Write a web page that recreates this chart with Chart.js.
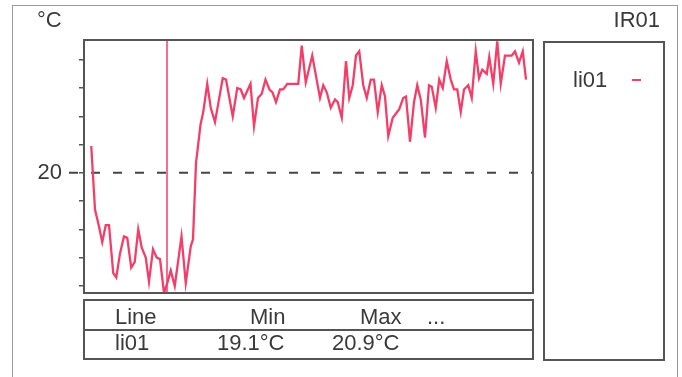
<!DOCTYPE html>
<html>
<head>
<meta charset="utf-8">
<script src="https://cdn.jsdelivr.net/npm/chart.js@4.4.0/dist/chart.umd.min.js"></script>
<style>
body { margin: 0; background: #fff; }
#wrap { position: relative; width: 682px; height: 377px; overflow: hidden; font-family: "Liberation Sans", Arial, sans-serif; font-size: 22px; color: #3a3a3a; }
#wrap canvas { position: absolute; left: 0; top: 0; }
.t { position: absolute; line-height: 22px; white-space: nowrap; }
.box { position: absolute; border: 2px solid #555; box-sizing: border-box; }
</style>
</head>
<body>
<div id="wrap">
  <div style="position:absolute;left:12px;top:5px;width:666px;height:400px;border:1px solid #9a9a9a;box-sizing:border-box;"></div>
  <canvas id="tempChart" width="682" height="377"></canvas>
  <span class="t" style="left:37px;top:9px;">°C</span>
  <span class="t" style="right:22px;top:9px;">IR01</span>

  <!-- legende rechts -->
  <div class="box" style="left:543px;top:41px;width:122px;height:320px;"></div>
  <span class="t" style="left:573px;top:69px;">li01</span>
  <div style="position:absolute;left:632px;top:79px;width:9px;height:2px;background:#f23e68;"></div>

  <!-- tabelle unten -->
  <div class="box" style="left:83px;top:299px;width:451px;height:61px;"></div>
  <div style="position:absolute;left:83px;top:329px;width:451px;height:2px;background:#555;"></div>
  <span class="t" style="left:115px;top:306px;">Line</span>
  <span class="t" style="left:250px;top:306px;">Min</span>
  <span class="t" style="left:360px;top:306px;">Max</span>
  <span class="t" style="left:427px;top:306px;">...</span>
  <span class="t" style="left:115px;top:332px;">li01</span>
  <span class="t" style="left:217px;top:332px;">19.1°C</span>
  <span class="t" style="left:332px;top:332px;">20.9°C</span>
</div>
<script>
// Messzeit in Sekunden
var times = [29, 44, 60, 73, 87, 100, 117, 129, 144, 160, 173, 189, 203, 217, 231, 247, 260, 276, 291, 304,
  320, 333, 347, 363, 390, 407, 427, 436, 448, 466, 477, 493, 507, 524, 537, 555, 568, 595, 613, 627,
  640, 666, 680, 696, 711, 726, 742, 754, 768, 784, 797, 813, 831, 857, 871, 887, 913, 944, 957, 971,
  987, 1004, 1015, 1031, 1048, 1061, 1075, 1088, 1101, 1117, 1131, 1147, 1160, 1175, 1191, 1204, 1217, 1235, 1261, 1277,
  1288, 1304, 1320, 1333, 1347, 1364, 1380, 1391, 1407, 1421, 1435, 1451, 1467, 1480, 1493, 1507, 1520, 1537, 1551, 1567,
  1580, 1593, 1611, 1621, 1637, 1653, 1667, 1684, 1711, 1724, 1740, 1755, 1768];
// Temperatur li01 in °C
var temps = [20.19, 19.74, 19.62, 19.51, 19.63, 19.63, 19.29, 19.26, 19.43, 19.55, 19.54, 19.33, 19.37, 19.60, 19.47, 19.40, 19.23, 19.46, 19.40, 19.39,
  19.15, 19.22, 19.31, 19.20, 19.55, 19.22, 19.48, 19.53, 20.07, 20.34, 20.43, 20.63, 20.46, 20.36, 20.49, 20.67, 20.66, 20.40, 20.60, 20.59,
  20.53, 20.63, 20.33, 20.53, 20.56, 20.66, 20.59, 20.57, 20.50, 20.59, 20.59, 20.63, 20.63, 20.63, 20.90, 20.64, 20.83, 20.53, 20.62, 20.57,
  20.46, 20.52, 20.50, 20.39, 20.79, 20.53, 20.62, 20.83, 20.86, 20.62, 20.53, 20.66, 20.66, 20.43, 20.62, 20.54, 20.26, 20.39, 20.45, 20.53,
  20.54, 20.22, 20.50, 20.62, 20.52, 20.25, 20.62, 20.61, 20.46, 20.66, 20.60, 20.79, 20.66, 20.59, 20.59, 20.43, 20.59, 20.62, 20.53, 20.86,
  20.67, 20.73, 20.70, 20.82, 20.63, 20.93, 20.63, 20.83, 20.83, 20.86, 20.78, 20.86, 20.66];
var cursorTime = 332;
var refLevel = 20;
var yTicks = [19.2, 19.4, 19.6, 19.8, 20.0, 20.2, 20.4, 20.6, 20.8];
var yMin = 19.15;
var yMax = 20.94;
var xMax = 1796;

var lineColor = '#f23e68';
var frameColor = '#555';

var points = times.map(function(t, i) { return { x: t, y: temps[i] }; });

// Rahmen, Referenzlinie und Cursor
var decor = {
  id: 'decor',
  beforeDatasetsDraw: function(chart) {
    var ctx = chart.ctx, a = chart.chartArea;
    var y = chart.scales.y.getPixelForValue(refLevel);
    ctx.save();
    ctx.strokeStyle = '#444';
    ctx.lineWidth = 2;
    ctx.setLineDash([9, 13]);
    ctx.beginPath();
    ctx.moveTo(a.left - 15, y);
    ctx.lineTo(a.right, y);
    ctx.stroke();
    ctx.restore();
  },
  afterDatasetsDraw: function(chart) {
    var ctx = chart.ctx, a = chart.chartArea;
    var x = chart.scales.x.getPixelForValue(cursorTime);
    ctx.save();
    ctx.strokeStyle = lineColor;
    ctx.lineWidth = 1.5;
    ctx.beginPath();
    ctx.moveTo(x, a.top);
    ctx.lineTo(x, a.bottom);
    ctx.stroke();
    ctx.strokeStyle = frameColor;
    ctx.lineWidth = 2;
    ctx.strokeRect(a.left, a.top, a.right - a.left, a.bottom - a.top);
    ctx.restore();
  }
};

new Chart(document.getElementById('tempChart').getContext('2d'), {
  type: 'line',
  data: {
    datasets: [{
      label: 'li01',
      data: points,
      borderColor: lineColor,
      borderWidth: 2.3,
      pointRadius: 0,
      tension: 0,
      fill: false
    }]
  },
  options: {
    responsive: false,
    animation: false,
    layout: { padding: { left: 0, top: 40, right: 149, bottom: 84 } },
    plugins: { legend: { display: false }, tooltip: { enabled: false } },
    scales: {
      x: { type: 'linear', min: 0, max: xMax, display: false },
      y: {
        min: yMin,
        max: yMax,
        afterBuildTicks: function(scale) {
          scale.ticks = yTicks.map(function(v) { return { value: v }; });
        },
        afterFit: function(scale) { scale.width = 84; },
        ticks: {
          callback: function(v) { return v === refLevel ? '20' : ''; },
          font: { family: '"Liberation Sans", Arial, sans-serif', size: 22 },
          color: '#3a3a3a',
          padding: 17
        },
        grid: { drawOnChartArea: false, drawTicks: true, tickLength: 5, color: frameColor, lineWidth: 1.5 },
        border: { display: false }
      }
    }
  },
  plugins: [decor]
});
</script>
</body>
</html>
